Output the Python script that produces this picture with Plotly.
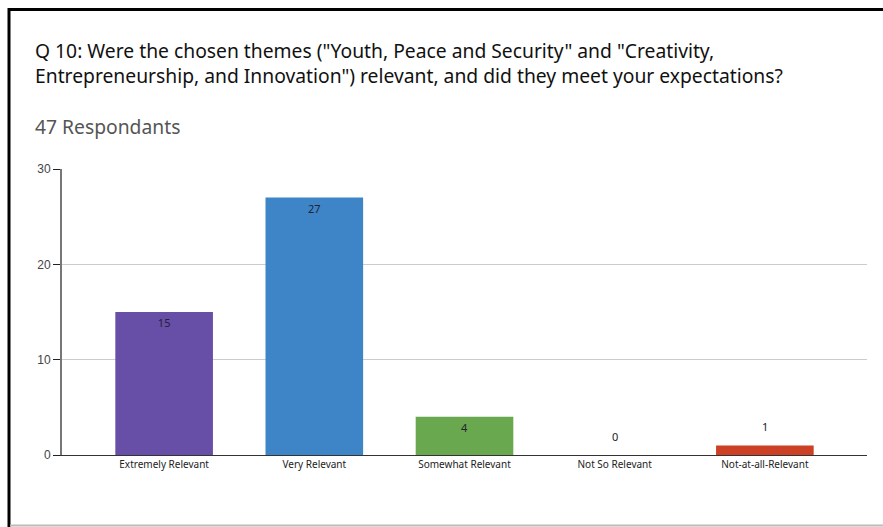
import plotly.graph_objects as go

categories = ["Extremely Relevant", "Very Relevant", "Somewhat Relevant", "Not So Relevant", "Not-at-all-Relevant"]
values = [15, 27, 4, 0, 1]
colors = ["#674EA7", "#3D85C6", "#6AA84F", "#999999", "#CC4125"]
label_inside = [True, True, True, False, False]
y_ticks = [0, 10, 20, 30]
title_text = 'Q 10: Were the chosen themes ("Youth, Peace and Security" and "Creativity,<br>Entrepreneurship, and Innovation") relevant, and did they meet your expectations?'
subtitle_text = "47 Respondants"

W, H = 883, 527
L, R, T, B = 62, 867, 169, 455

def px(x):
    return (x - L) / (R - L)

def py(y):
    return (B - y) / (B - T)

fig = go.Figure()
fig.add_trace(go.Bar(
    x=categories, y=values,
    marker=dict(color=colors, line=dict(width=0)),
    width=0.65,
    text=[str(v) if ins else "" for v, ins in zip(values, label_inside)],
    textposition="inside",
    insidetextanchor="end",
    textfont=dict(family="Noto Sans, sans-serif", size=11, color="#222233"),
    cliponaxis=False,
    hoverinfo="skip",
))

annotations = [
    dict(text=title_text, xref="paper", yref="paper", x=px(33), y=py(35),
         xanchor="left", yanchor="top", align="left", showarrow=False,
         font=dict(family="Noto Sans, sans-serif", size=19.3, color="#111111")),
    dict(text=subtitle_text, xref="paper", yref="paper", x=px(33), y=py(111),
         xanchor="left", yanchor="top", align="left", showarrow=False,
         font=dict(family="Noto Sans, sans-serif", size=19.3, color="#555555")),
]
for c, v, ins in zip(categories, values, label_inside):
    if not ins:
        annotations.append(dict(text=str(v), x=c, y=v, xref="x", yref="y",
                                yshift=19, yanchor="middle", showarrow=False,
                                font=dict(family="Noto Sans, sans-serif", size=11, color="#222222")))

fig.update_layout(
    width=W, height=H,
    margin=dict(l=L, r=W - R, t=T, b=H - B, pad=0),
    paper_bgcolor="white", plot_bgcolor="white",
    showlegend=False,
    bargap=0.35,
    xaxis=dict(
        range=[-0.68, 4.68],
        showgrid=False, showline=True, linecolor="#333333", linewidth=1,
        ticks="", tickfont=dict(family="Noto Sans, sans-serif", size=10, color="#222222"),
        zeroline=False, fixedrange=True,
    ),
    yaxis=dict(
        range=[0, 30], tickvals=y_ticks,
        showgrid=True, gridcolor="#cccccc", gridwidth=1,
        showline=True, linecolor="#777777", linewidth=2,
        ticks="outside", ticklen=7, tickcolor="#222222", tickwidth=1,
        tickfont=dict(family="Liberation Sans, Arial, sans-serif", size=12, color="#444444"),
        zeroline=False, fixedrange=True,
    ),
    annotations=annotations,
    shapes=[
        dict(type="line", xref="paper", yref="paper", x0=px(9), x1=px(W + 5), y0=py(9.5), y1=py(9.5),
             line=dict(color="black", width=3)),
        dict(type="line", xref="paper", yref="paper", x0=px(9), x1=px(9), y0=py(8), y1=py(H + 5),
             line=dict(color="black", width=3)),
        dict(type="line", xref="paper", yref="paper", x0=px(10), x1=px(W + 5), y0=py(525.5), y1=py(525.5),
             line=dict(color="#bbbbbb", width=2)),
    ],
)

fig.write_html("out.html")
